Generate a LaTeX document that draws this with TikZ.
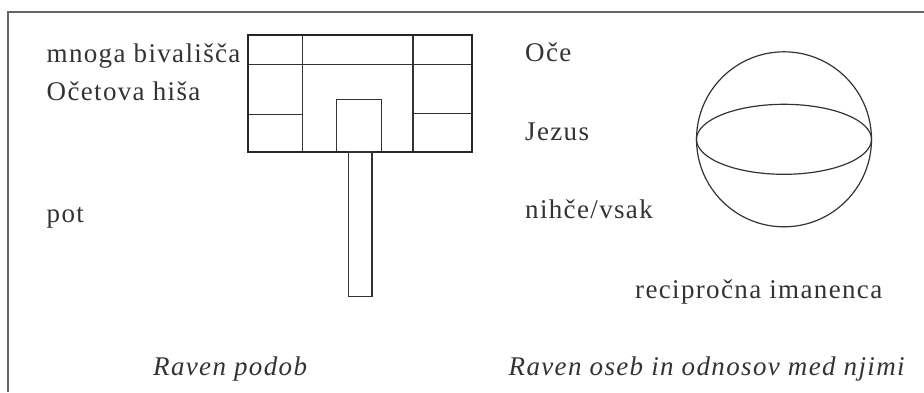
\documentclass[tikz,border=0pt]{standalone}
\usepackage{fontspec}
\setmainfont{Liberation Serif}[LetterSpace=5]
\begin{document}
\begin{tikzpicture}[x=1pt,y=-1pt,
  ink/.style={color=black!80},
  label/.style={ink,anchor=base west,inner sep=0pt,font=\fontsize{27}{32}\selectfont},
  caption/.style={label,font=\fontsize{27}{32}\selectfont\itshape},
  thin line/.style={draw=black!80,line width=1.2pt},
  thick line/.style={draw=black!85,line width=1.9pt}]
\useasboundingbox (0,0) rectangle (924,392);

% frame (top and left edges)
\draw[draw=black!60,line width=1.5pt] (924,12) -- (8,12) -- (8,392);

% left column labels
\node[label] (bival) at (46.5,62) {mnoga bivališča};
\node[label] (hisa)  at (46.5,100) {Očetova hiša};
\node[label] (pot)   at (46.5,222) {pot};
\node[caption] (podob) at (153,375) {Raven podob};

% house plan
\draw[thin line] (248,64.3) -- (472,64.3);
\draw[thin line] (302.3,35) -- (302.3,152);
\draw[thin line] (413,35) -- (413,152);
\draw[thin line] (248,114.3) -- (302.3,114.3);
\draw[thin line] (413,113.7) -- (472,113.7);
\draw[thin line] (336.7,152) rectangle (381.7,99.3);
\draw[thick line] (248,35) rectangle (472,152);
% the way
\draw[thin line] (348.3,152) rectangle (372,296.7);

% right column labels
\node[label] (oce)   at (525,61) {Oče};
\node[label] (jezus) at (525,140) {Jezus};
\node[label] (nihce) at (525,218.5) {nihče/vsak};
\node[label] (recip) at (635,298.5) {recipročna imanenca};
\node[caption] (oseb) at (508.5,375) {Raven oseb in odnosov med njimi};

% sphere
\draw[thin line] (784,139.3) circle [radius=87.5];
\draw[thin line] (784,139.3) ellipse [x radius=87.5, y radius=35];
\end{tikzpicture}
\end{document}
